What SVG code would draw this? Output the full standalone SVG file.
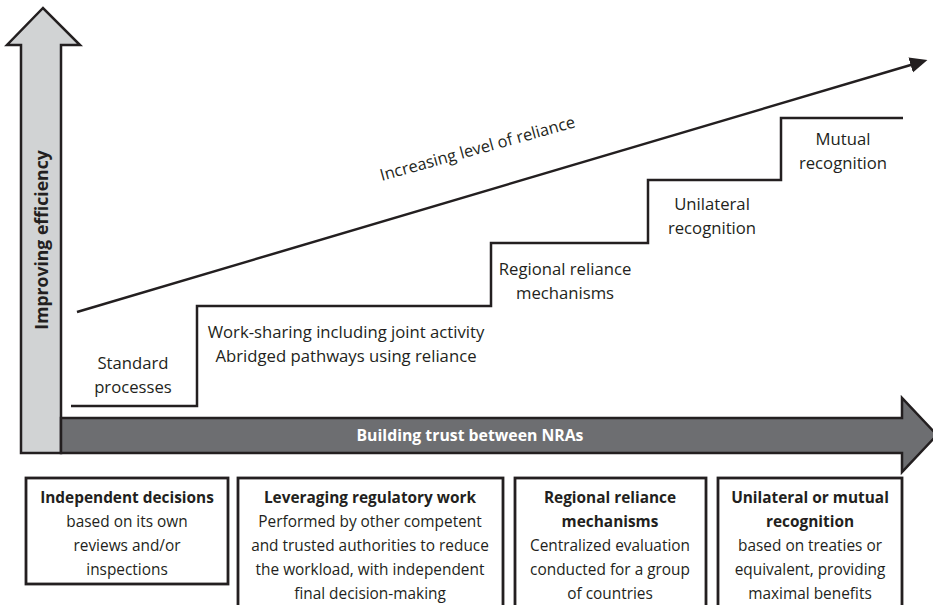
<svg xmlns="http://www.w3.org/2000/svg" width="933" height="605" viewBox="0 0 933 605">
<style>
text{font-family:"Open Sans","Noto Sans","Liberation Sans",sans-serif;fill:#231f20;text-anchor:middle}
.s{font-size:16.7px}
.b{font-size:15.4px}
.bb{font-size:15.4px;font-weight:bold}
.box{fill:#fff;stroke:#231f20;stroke-width:2.8}
.ln{fill:none;stroke:#231f20;stroke-width:2.5}
</style>
<defs>
<marker id="ah" viewBox="0 0 10 10" refX="2" refY="5" markerWidth="7" markerHeight="7" orient="auto" markerUnits="strokeWidth">
<path d="M0,0.5 L10,5 L0,9.5 Z" fill="#231f20"/>
</marker>
</defs>
<rect width="933" height="605" fill="#fff"/>
<g id="efficiency-arrow">
<polygon points="21,453 21,45 7,45 43,8 80,45 61,45 61,453" fill="#d1d3d4" stroke="#231f20" stroke-width="2.5" stroke-linejoin="miter"/>
<text transform="translate(48,240) rotate(-90)" style="font-size:17.6px;font-weight:bold">Improving efficiency</text>
</g>
<g id="trust-arrow">
<polygon points="61,418 902,418 902,398 937,435 902,472 902,453 61,453" fill="#6d6e71" stroke="#231f20" stroke-width="2.5"/>
<text x="470" y="441" style="font-size:15.8px;font-weight:bold;fill:#fff">Building trust between NRAs</text>
</g>
<g id="connectors">
<polyline class="ln" points="71,406 197,406 197,306 491,306 491,243 648,243 648,180 781,180 781,118 903,118"/>
<line class="ln" x1="77" y1="312" x2="914" y2="64" marker-end="url(#ah)"/>
</g>
<g id="reliance-label">
<text class="s" style="font-size:16.4px" transform="translate(479,154) rotate(-15.5)">Increasing level of reliance</text>
</g>
<g id="step-standard">
<text class="s" x="133" y="369">Standard</text>
<text class="s" x="133" y="393">processes</text>
</g>
<g id="step-worksharing">
<text class="s" x="346" y="338">Work-sharing including joint activity</text>
<text class="s" x="346" y="362">Abridged pathways using reliance</text>
</g>
<g id="step-regional">
<text class="s" x="565" y="275">Regional reliance</text>
<text class="s" x="565" y="299">mechanisms</text>
</g>
<g id="step-unilateral">
<text class="s" x="712" y="210">Unilateral</text>
<text class="s" x="712" y="234">recognition</text>
</g>
<g id="step-mutual">
<text class="s" x="843" y="145">Mutual</text>
<text class="s" x="843" y="169">recognition</text>
</g>
<g id="box-independent">
<rect class="box" x="26" y="478" width="202" height="106"/>
<text class="bb" x="127" y="503">Independent decisions</text>
<text class="b" x="127" y="527">based on its own</text>
<text class="b" x="127" y="551">reviews and/or</text>
<text class="b" x="127" y="575">inspections</text>
</g>
<g id="box-leveraging">
<rect class="box" x="238" y="478" width="265" height="140"/>
<text class="bb" x="370" y="503">Leveraging regulatory work</text>
<text class="b" x="370" y="527">Performed by other competent</text>
<text class="b" x="370" y="551">and trusted authorities to reduce</text>
<text class="b" x="370" y="575">the workload, with independent</text>
<text class="b" x="370" y="599">final decision-making</text>
</g>
<g id="box-regional">
<rect class="box" x="515" y="478" width="191" height="140"/>
<text class="bb" x="610" y="503">Regional reliance</text>
<text class="bb" x="610" y="527">mechanisms</text>
<text class="b" x="610" y="551">Centralized evaluation</text>
<text class="b" x="610" y="575">conducted for a group</text>
<text class="b" x="610" y="599">of countries</text>
</g>
<g id="box-recognition">
<rect class="box" x="718" y="478" width="184" height="140"/>
<text class="bb" x="810" y="503">Unilateral or mutual</text>
<text class="bb" x="810" y="527">recognition</text>
<text class="b" x="810" y="551">based on treaties or</text>
<text class="b" x="810" y="575">equivalent, providing</text>
<text class="b" x="810" y="599">maximal benefits</text>
</g>
</svg>
